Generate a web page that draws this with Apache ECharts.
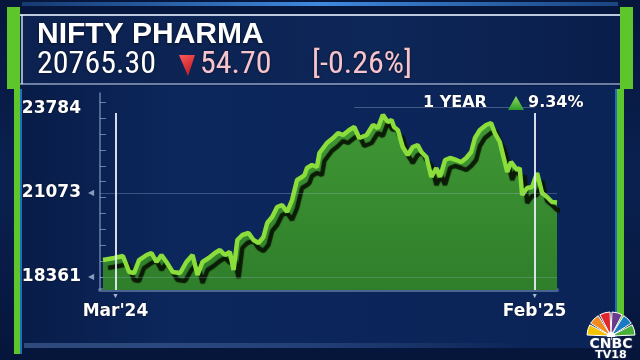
<!DOCTYPE html>
<html>
<head>
<meta charset="utf-8">
<script src="https://cdn.jsdelivr.net/npm/echarts@6/dist/echarts.min.js"></script>
<style>
html,body{margin:0;padding:0;background:#081a44;}
#c{width:640px;height:360px;}
</style>
</head>
<body>
<div id="c"></div>
<script>
// ---- data ----
const titleText = 'NIFTY PHARMA';
const lastValue = '20765.30';
const changeValue = '54.70';
const changePct = '[-0.26%]';
const periodLabel = '1 YEAR';
const periodChange = '9.34%';

const dates = ['2024-02-20','2024-02-29','2024-03-07','2024-03-12','2024-03-16','2024-03-20','2024-03-26','2024-03-30',
'2024-04-03','2024-04-07','2024-04-11','2024-04-16','2024-04-22','2024-04-27',
'2024-05-02','2024-05-06','2024-05-10','2024-05-15','2024-05-20','2024-05-24','2024-05-28',
'2024-06-01','2024-06-04','2024-06-07','2024-06-11','2024-06-16','2024-06-20','2024-06-24','2024-06-28',
'2024-07-01','2024-07-05','2024-07-09','2024-07-13','2024-07-17','2024-07-21','2024-07-25','2024-07-29','2024-07-31',
'2024-08-02','2024-08-06','2024-08-10','2024-08-12','2024-08-18','2024-08-23','2024-08-27','2024-08-31',
'2024-09-05','2024-09-09','2024-09-13','2024-09-19','2024-09-24','2024-09-28',
'2024-10-02','2024-10-06','2024-10-09','2024-10-11','2024-10-14','2024-10-18','2024-10-22','2024-10-26','2024-10-30',
'2024-11-02','2024-11-06','2024-11-10','2024-11-14','2024-11-17','2024-11-21','2024-11-25','2024-11-30',
'2024-12-04','2024-12-08','2024-12-12','2024-12-15','2024-12-19','2024-12-24','2024-12-28','2024-12-31',
'2025-01-04','2025-01-08','2025-01-10','2025-01-13','2025-01-18','2025-01-20','2025-01-22','2025-01-26','2025-01-30',
'2025-02-03','2025-02-07','2025-02-11','2025-02-15','2025-02-19'];

const values = [18910,18975,19039,18523,18491,18910,19072,19136,
18846,19072,18846,18523,18491,18846,
19072,18426,18846,18975,19136,19233,19072,
19169,18587,19556,19717,19782,19556,19459,19653,
20105,20298,20621,20686,20460,20847,21493,21590,21654,
21880,21977,21912,22364,22687,22848,23010,22945,
23107,23203,22848,22945,23268,23171,
23600,23365,23429,23203,23107,22558,22300,22558,22622,
22396,22235,21590,21880,21590,22138,22203,22138,
22074,22203,22396,22848,23107,23268,23333,23010,
22719,22074,21751,22074,21815,21880,21008,21234,21267,
21719,21073,20944,20782,20765.30];

const yLabels = [18361, 21073, 23784];
const xLabelDates = ['2024-03-01', '2025-02-01'];
const xLabelTexts = ["Mar'24", "Feb'25"];

// ---- chart ----
const yMin = 17942, yMax = 24301;
const xMin = Date.parse('2024-02-17T14:00:00Z');
const xMax = Date.parse('2025-02-19T00:00:00Z');
const xLabelTs = xLabelDates.map(d => Date.parse(d + 'T00:00:00Z'));

const yTicks = [];
for (let v = yLabels[0]; v <= yMax; v += 513) yTicks.push(v);
const xTicks = [];
const dayMs = 86400000, xStep = 13.3 * dayMs;
for (let t = xLabelTs[0]; t <= xMax; t += xStep) xTicks.push(t);

const seriesData = dates.map((d, i) => [Date.parse(d + 'T00:00:00Z'), values[i]]);

const chart = echarts.init(document.getElementById('c'), null, {renderer: 'canvas'});

const feathers = ['#f5c400','#f08a1c','#e2262c','#6b3c8e','#1b7ac4','#4bb03a'];
const logo = feathers.map((c, i) => ({
  type: 'sector', z: 20,
  shape: {cx: 611, cy: 336, r0: 4, r: 24,
    startAngle: Math.PI + i * Math.PI / 6 + 0.04,
    endAngle: Math.PI + (i + 1) * Math.PI / 6 - 0.04},
  style: {fill: c, stroke: '#ffffff', lineWidth: 1}
}));

const option = {
  animation: false,
  backgroundColor: {
    type: 'linear', x: 0, y: 0, x2: 0, y2: 1,
    colorStops: [{offset: 0, color: '#06163d'}, {offset: 0.5, color: '#0a2150'}, {offset: 1, color: '#06153a'}]
  },
  graphic: [
    {type: 'rect', z: -1, shape: {x: 22, y: 86, width: 595, height: 262},
      style: {fill: {type: 'linear', x: 0, y: 0, x2: 1, y2: 0,
        colorStops: [{offset: 0, color: '#081c48'}, {offset: 0.25, color: '#0c275c'}, {offset: 1, color: '#0b2458'}]}}},
    {type: 'rect', z: -1, shape: {x: 22, y: 2, width: 596, height: 4},
      style: {fill: {type: 'linear', x: 0, y: 0, x2: 1, y2: 0,
        colorStops: [{offset: 0, color: 'rgba(60,140,230,0.3)'}, {offset: 0.5, color: 'rgba(70,150,240,0.9)'}, {offset: 1, color: 'rgba(60,140,230,0.4)'}]}}},
    {type: 'rect', z: -1, shape: {x: 14, y: 14, width: 612, height: 71},
      style: {fill: {type: 'linear', x: 0, y: 0, x2: 1, y2: 0,
        colorStops: [{offset: 0, color: '#0c2150'}, {offset: 0.6, color: '#0d2758'}, {offset: 1, color: '#0a1d4a'}]}}},
    {type: 'line', z: 5, shape: {x1: 14, y1: 15, x2: 626, y2: 15}, style: {stroke: 'rgba(220,230,245,0.85)', lineWidth: 2}},
    {type: 'line', z: 5, shape: {x1: 14, y1: 84, x2: 626, y2: 84}, style: {stroke: 'rgba(200,215,240,0.7)', lineWidth: 1.5}},
    {type: 'line', z: 5, shape: {x1: 22, y1: 15, x2: 22, y2: 84}, style: {stroke: 'rgba(230,235,245,0.9)', lineWidth: 1.5}},
    {type: 'rect', z: 6, shape: {x: 7, y: 7, width: 13, height: 82}, style: {fill: '#5cc62a'}},
    {type: 'rect', z: 6, shape: {x: 620, y: 7, width: 13, height: 82}, style: {fill: '#5cc62a'}},
    {type: 'rect', z: 6, shape: {x: 14, y: 89, width: 6, height: 265}, style: {fill: '#5cc62a'}},
    {type: 'rect', z: 6, shape: {x: 20, y: 89, width: 2, height: 265}, style: {fill: '#1f6fbf'}},
    {type: 'rect', z: 6, shape: {x: 617, y: 89, width: 7, height: 240}, style: {fill: '#5cc62a'}},
    {type: 'rect', z: 6, shape: {x: 615, y: 89, width: 2, height: 260}, style: {fill: '#1f6fbf'}},
    {type: 'rect', z: -1, shape: {x: 24, y: 343, width: 500, height: 5},
      style: {fill: {type: 'linear', x: 0, y: 0, x2: 1, y2: 0,
        colorStops: [{offset: 0, color: 'rgba(120,160,220,0.35)'}, {offset: 0.6, color: 'rgba(120,160,220,0.2)'}, {offset: 1, color: 'rgba(120,160,220,0)'}]}}},
    {type: 'text', z: 10, x: 37, y: 35,
      style: {text: titleText, fill: '#ffffff', font: "bold 30px 'Liberation Sans', Arial, sans-serif",
        verticalAlign: 'middle', textShadowColor: 'rgba(0,0,0,0.6)', textShadowBlur: 3, textShadowOffsetY: 1}},
    {type: 'text', z: 10, x: 37, y: 65,
      style: {text: lastValue, fill: '#ffffff', font: "32px 'Liberation Sans Narrow', 'Roboto Condensed', Roboto, sans-serif",
        verticalAlign: 'middle', textShadowColor: 'rgba(0,0,0,0.6)', textShadowBlur: 3}},
    {type: 'polygon', z: 10, shape: {points: [[179, 55], [195, 55], [188, 76]]},
      style: {fill: {type: 'linear', x: 0, y: 0, x2: 1, y2: 1,
        colorStops: [{offset: 0, color: '#ff5a5a'}, {offset: 1, color: '#b8121c'}]}}},
    {type: 'text', z: 10, x: 200, y: 65,
      style: {text: changeValue, fill: '#f7c4cd', font: "32px 'Liberation Sans Narrow', 'Roboto Condensed', Roboto, sans-serif",
        verticalAlign: 'middle', textShadowColor: 'rgba(0,0,0,0.6)', textShadowBlur: 3}},
    {type: 'text', z: 10, x: 312, y: 65,
      style: {text: changePct, fill: '#f7c4cd', font: "32px 'Liberation Sans Narrow', 'Roboto Condensed', Roboto, sans-serif",
        verticalAlign: 'middle', textShadowColor: 'rgba(0,0,0,0.6)', textShadowBlur: 3}},
    {type: 'text', z: 10, x: 423, y: 103,
      style: {text: periodLabel, fill: '#ffffff', font: "bold 16px 'DejaVu Sans', sans-serif",
        verticalAlign: 'middle', textShadowColor: 'rgba(0,0,0,0.6)', textShadowBlur: 2}},
    {type: 'polygon', z: 10, shape: {points: [[508, 110], [524, 110], [516, 96]]},
      style: {fill: {type: 'linear', x: 0, y: 0, x2: 0, y2: 1,
        colorStops: [{offset: 0, color: '#8fe05a'}, {offset: 1, color: '#2f9a2a'}]}}},
    {type: 'text', z: 10, x: 528, y: 103,
      style: {text: periodChange, fill: '#ffffff', font: "bold 16px 'DejaVu Sans', sans-serif",
        verticalAlign: 'middle', textShadowColor: 'rgba(0,0,0,0.6)', textShadowBlur: 2}},
    ...logo,
    {type: 'circle', z: 21, shape: {cx: 611, cy: 336, r: 4}, style: {fill: '#ffffff'}},
    {type: 'text', z: 21, x: 611, y: 344,
      style: {text: 'CNBC', fill: '#ffffff', font: "bold 14px 'DejaVu Sans', sans-serif", align: 'center', verticalAlign: 'middle',
        stroke: '#1a2a50', lineWidth: 2}},
    {type: 'text', z: 21, x: 611, y: 355,
      style: {text: 'TV18', fill: '#ffffff', font: "bold 11px 'DejaVu Sans', sans-serif", align: 'center', verticalAlign: 'middle',
        stroke: '#1a2a50', lineWidth: 2}}
  ],
  grid: {left: 100, right: 83, top: 93, bottom: 70},
  xAxis: {
    type: 'value', min: xMin, max: xMax,
    axisLine: {show: true, lineStyle: {color: 'rgba(150,175,215,0.45)', width: 4}},
    axisTick: {show: true, inside: true, length: 5, customValues: xTicks, lineStyle: {color: 'rgba(200,215,240,0.55)', width: 1}},
    splitLine: {show: false},
    axisLabel: {
      customValues: xLabelTs, margin: 2,
      formatter: v => '{t|▼}\n{l|' + xLabelTexts[xLabelTs.indexOf(v)] + '}',
      rich: {
        t: {fontSize: 7, color: 'rgba(210,220,240,0.8)', lineHeight: 9, align: 'center'},
        l: {fontSize: 17, fontWeight: 'bold', fontFamily: 'DejaVu Sans', color: '#ffffff', lineHeight: 22, align: 'center',
          textShadowColor: 'rgba(0,0,0,0.6)', textShadowBlur: 2}
      }
    }
  },
  yAxis: {
    type: 'value', min: yMin, max: yMax,
    axisLine: {show: true, lineStyle: {color: 'rgba(170,190,225,0.6)', width: 1.5}},
    axisTick: {show: true, inside: true, length: 6, customValues: yTicks, lineStyle: {color: 'rgba(170,190,225,0.6)'}},
    splitLine: {show: false},
    axisLabel: {
      customValues: yLabels, margin: 6,
      formatter: v => '{n|' + v + '}{t|' + (v === yLabels[2] ? '' : '◀') + '}',
      rich: {
        n: {fontSize: 17, fontWeight: 'bold', fontFamily: 'DejaVu Sans', color: '#ffffff',
          textShadowColor: 'rgba(0,0,0,0.6)', textShadowBlur: 2},
        t: {fontSize: 8, color: 'rgba(160,175,205,0.85)', width: 13, align: 'right'}
      }
    }
  },
  series: [{
    type: 'line',
    data: seriesData,
    symbol: 'none',
    z: 3,
    lineStyle: {color: '#8add3a', width: 4.5, shadowColor: 'rgba(10,22,4,0.95)', shadowOffsetX: 5, shadowOffsetY: 8, shadowBlur: 1},
    areaStyle: {
      color: {type: 'linear', x: 0, y: 0, x2: 0, y2: 1,
        colorStops: [{offset: 0, color: '#409834'}, {offset: 1, color: '#2f7e2b'}]},
      opacity: 1
    },
    markLine: {
      silent: true, symbol: 'none', label: {show: false},
      data: [
        [{coord: [xMin, yLabels[1]], lineStyle: {color: 'rgba(170,190,225,0.3)', width: 1, type: 'solid'}},
         {coord: [xMax, yLabels[1]]}],
        [{coord: [xMin, yLabels[0]], lineStyle: {color: 'rgba(170,190,225,0.25)', width: 1, type: 'solid'}},
         {coord: [xMax, yLabels[0]]}],
        [{coord: [Date.parse('2024-09-09T00:00:00Z'), 23849], lineStyle: {color: 'rgba(170,190,225,0.35)', width: 1, type: 'solid'}},
         {coord: [xLabelTs[1], 23849]}],
        [{coord: [xLabelTs[0], 23655], lineStyle: {color: 'rgba(235,240,250,0.9)', width: 2, type: 'solid'}},
         {coord: [xLabelTs[0], yMin]}],
        [{coord: [xLabelTs[1], 23655], lineStyle: {color: 'rgba(235,240,250,0.9)', width: 2, type: 'solid'}},
         {coord: [xLabelTs[1], yMin]}]
      ]
    }
  }]
};
chart.setOption(option);
</script>
</body>
</html>
